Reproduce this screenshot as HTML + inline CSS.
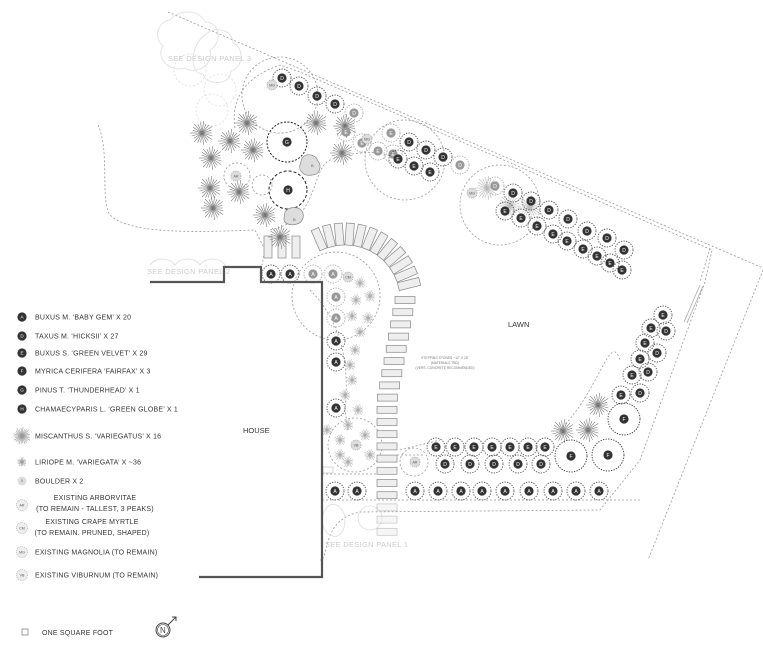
<!DOCTYPE html>
<html><head><meta charset="utf-8"><style>
html,body{margin:0;padding:0;background:#fff;}
svg{display:block;font-family:"Liberation Sans",sans-serif;}
.lg{font-size:7px;fill:#333;letter-spacing:0.2px}
</style></head><body>
<svg id="s" width="763" height="645" viewBox="0 0 763 645" xmlns="http://www.w3.org/2000/svg">
<g id="bg" fill="none" stroke="#999" stroke-width="0.8" stroke-dasharray="2,2">
 <path d="M168,12 L763,268"/>
 <path d="M763,270 L648,560"/>
 <path d="M710,248 L700,282"/>
 <path d="M700,285 L684,322 M703,286 L687,323" stroke-dasharray="none" stroke="#aaa"/>
 <path d="M235,128 C 230,95 250,75 280,65 L300,72 L712,250 L705,282 L640,460 L600,510 L360,512 C 320,520 330,560 320,560"/>
 <path d="M322,500 L640,500"/>
 <path d="M322,474 L380,474"/>
 <path d="M397,455 L425,455"/>
 <path d="M98,125 C 110,150 100,200 110,215 C 130,235 200,232 255,230 L265,250 L262,265"/>
 <path d="M270,230 C 320,220 310,170 330,160 C 360,150 380,150 400,160"/>
 <circle cx="280" cy="95" r="38"/>
 <circle cx="405" cy="160" r="40"/>
 <circle cx="500" cy="205" r="40"/>
 <circle cx="336" cy="296" r="44"/>
 <circle cx="355" cy="445" r="27"/>
 <circle cx="414" cy="462" r="14"/>
 <circle cx="237" cy="176" r="13"/>
 <circle cx="262" cy="185" r="10"/>
 <path d="M310,290 C 340,320 350,360 345,410 L348,430"/>
 <path d="M400,450 L440,440 M560,430 C 600,390 610,330 620,360"/>
</g>
<g id="ghost" fill="none" stroke="#ddd" stroke-width="0.8">
 <path d="M170,20 c10,-12 30,-10 35,2 c15,0 18,20 5,28 c5,15 -15,25 -25,18 c-15,5 -30,-10 -22,-22 c-10,-8 -5,-25 7,-26z"/>
 <path d="M205,35 c10,-10 28,-5 28,8 c12,5 10,25 -2,28 c0,15 -25,15 -28,3 c-15,0 -12,-30 2,-39z"/>
 <circle cx="220" cy="90" r="16" stroke-dasharray="2,2"/>
 <circle cx="190" cy="70" r="16" stroke-dasharray="2,2"/>
 <circle cx="212" cy="110" r="16" stroke-dasharray="2,2"/>
 <path d="M150,265 c5,-8 20,-8 25,0 c5,-8 20,-8 25,0 c5,-8 20,-8 25,0 l0,3"/>
 <circle cx="370" cy="518" r="12"/>
 <path d="M330,505 c-10,5 -10,25 0,30 c10,5 15,-5 15,-15 c0,-10 -8,-18 -15,-15z"/>
</g>
<g id="stones" fill="#eee" stroke="#888" stroke-width="0.7"></g>
<g id="plants"></g>
<path d="M150,282 L224,282 L224,267 L261,267 L261,282 L322,282 L322,577 L199,577" fill="none" stroke="#555" stroke-width="2.2"/>
<g fill="#ccc" font-size="7.5" letter-spacing="0.3">
 <text x="168" y="61">SEE DESIGN PANEL 3</text>
 <text x="147" y="274">SEE DESIGN PANEL 2</text>
 <text x="325" y="547">SEE DESIGN PANEL 1</text>
</g>
<text x="508" y="327" font-size="7.5" fill="#333">LAWN</text>
<text x="243" y="433" font-size="7.5" fill="#333">HOUSE</text>
<g font-size="3.3" fill="#777" text-anchor="middle">
 <text x="445" y="359">STEPPING STONES ~12" X 18"</text>
 <text x="445" y="364">(MATERIALS TBD)</text>
 <text x="445" y="369">(VERS. CONCRETE RECOMMENDED)</text>
</g>
<g id="legend"></g>
<rect x="22" y="629" width="6" height="6" fill="none" stroke="#777" stroke-width="0.7"/>
<text x="42" y="635" class="lg">ONE SQUARE FOOT</text>
<g transform="translate(163,630)" fill="none" stroke="#444" stroke-width="1">
 <circle r="7"/><circle r="5.5" stroke-width="0.6"/>
 <path d="M5,-5 L13,-13 M9,-13 L13,-13 L13,-9"/>
 <text x="-3" y="3" font-size="8" fill="#444" stroke="none">N</text>
</g>
</svg>
<script>
var NS="http://www.w3.org/2000/svg";
function el(p,t,a,txt){var e=document.createElementNS(NS,t);for(var k in a)e.setAttribute(k,a[k]);if(txt)e.textContent=txt;p.appendChild(e);return e;}
var P=document.getElementById('plants'),S=document.getElementById('stones'),L=document.getElementById('legend');
[268,282,296].forEach(function(x){el(S,'rect',{x:x-4,y:236,width:8,height:22});});
for(var a=-113;a<=-10;a+=9){var r=a*Math.PI/180,cx=345+66*Math.cos(r),cy=300+66*Math.sin(r);
 el(S,'rect',{x:-4,y:-11,width:8,height:22,transform:'translate('+cx.toFixed(1)+','+cy.toFixed(1)+') rotate('+(a+90)+')'});}
for(var y=300;y<=535;y+=12.2){var cx=y<400?405-(y-300)*0.18:387;var op=y>505?0.5:1;
 el(S,'rect',{x:cx-10,y:y-3.5,width:20,height:7,opacity:op});}
function scallop(g,x,y,R,col){el(g,'circle',{cx:x,cy:y,r:R,fill:'none',stroke:col||'#666','stroke-width':0.9,'stroke-dasharray':'1.3,1.3'});}
function dot(x,y,l,gray,sc){if(sc!==false)scallop(P,x,y,9,gray?'#aaa':'#555');
 el(P,'circle',{cx:x,cy:y,r:4.6,fill:gray?'#999':'#333'});
 el(P,'text',{x:x,y:y+1.8,'font-size':5,fill:'#fff','text-anchor':'middle'},l);}
function star(x,y,R,col,n,par){var g=el(par||P,'g',{stroke:col||'#777','stroke-width':0.6});n=n||22;
 for(var i=0;i<n;i++){var t=i*2*Math.PI/n,rr=R*(0.8+0.2*((i*7)%3)/2);el(g,'line',{x1:x,y1:y,x2:(x+rr*Math.cos(t)).toFixed(1),y2:(y+rr*Math.sin(t)).toFixed(1)});}}
function tag(x,y,l,r){el(P,'circle',{cx:x,cy:y,r:r||5,fill:'#ddd',stroke:'#888','stroke-width':0.6,'stroke-dasharray':'1,1'});
 el(P,'text',{x:x,y:y+1.3,'font-size':3.6,fill:'#555','text-anchor':'middle'},l);}
[[202,133],[230,141],[247,123],[253,150],[211,158],[210,188],[239,192],[213,208],[265,215],[280,237],[316,123],[345,126],[342,153],[598,405],[563,431],[588,430]].forEach(function(p){star(p[0],p[1],12,'#777');});
[[487,188],[510,206],[530,207]].forEach(function(p){star(p[0],p[1],12,'#bbb');});
[[360,283],[356,300],[370,296],[352,316],[368,318],[360,332],[355,350],[350,365],[352,380],[345,395],[358,410],[348,425],[340,440],[365,435],[370,455],[348,462],[327,430],[340,455]].forEach(function(p){star(p[0],p[1],6,'#aaa',14);});
el(P,'circle',{cx:287,cy:142,r:20,fill:'none',stroke:'#222','stroke-width':1,'stroke-dasharray':'2,1.5'});dot(287,142,'G',false,false);
el(P,'circle',{cx:288,cy:190,r:19,fill:'none',stroke:'#222','stroke-width':1,'stroke-dasharray':'3,2'});dot(288,190,'H',false,false);
el(P,'path',{d:'M302,158 c5,-6 14,-3 16,3 c4,5 2,14 -6,14 c-8,2 -14,-5 -12,-10z',fill:'#ddd',stroke:'#888','stroke-width':0.7});
el(P,'path',{d:'M285,212 c3,-5 12,-6 16,-2 c4,4 3,12 -4,14 c-6,2 -14,0 -13,-6z',fill:'#ddd',stroke:'#888','stroke-width':0.7});
el(P,'text',{x:311,y:167,'font-size':4,fill:'#666'},'B');el(P,'text',{x:293,y:221,'font-size':4,fill:'#666'},'B');
[[282,78],[299,86],[317,96],[335,104],[409,142],[426,150],[443,157],[513,193],[531,201],[549,210],[568,219],[587,231],[607,238],[624,250]].forEach(function(p){dot(p[0],p[1],'D');});
[[354,113],[346,132],[362,143],[378,151],[393,154],[391,133],[460,165],[495,186]].forEach(function(p){dot(p[0],p[1],p[0]>450||p[1]<120?'D':'E',true);});
[[398,159],[414,166],[430,172],[505,211],[521,218],[537,226],[553,234],[567,241],[583,249],[597,256],[610,263],[622,270]].forEach(function(p){dot(p[0],p[1],'E');});
[[663,315],[651,328],[645,343],[640,359],[632,375],[621,395]].forEach(function(p){dot(p[0],p[1],'E');});
[[666,331],[657,353],[648,372],[640,393]].forEach(function(p){dot(p[0],p[1],'D');});
[[624,419],[608,455],[571,456]].forEach(function(p){scallop(P,p[0],p[1],16,'#333');dot(p[0],p[1],'F',false,false);});
[436,455,474,492,510,528,545].forEach(function(x){dot(x,447,'E');});
[445,470,494,518,541].forEach(function(x){dot(x,464,'D');});
[335,357,415,438,461,482,505,529,553,576,599].forEach(function(x){dot(x,491,'A');});
dot(271,274,'A');dot(290,274,'A');dot(313,274,'A',true);dot(333,274,'A',true);dot(336,297,'A',true);dot(336,318,'A',true);
dot(336,341,'A');dot(336,362,'A');dot(336,408,'A');
tag(272,85,'MG');tag(367,139,'MG');tag(472,193,'MG');tag(236,176,'AR');tag(348,277,'CM');tag(356,445,'VB');tag(415,462,'AR');
el(P,'rect',{x:323,y:467,width:10,height:6,fill:'none',stroke:'#aaa','stroke-width':0.5});
var items=[[317,'A','BUXUS M. \u2018BABY GEM\u2019 X 20','d'],[336,'D','TAXUS M. \u2018HICKSII\u2019 X 27','d'],[353,'E','BUXUS S. \u2018GREEN VELVET\u2019 X 29','d'],[371,'F','MYRICA CERIFERA \u2018FAIRFAX\u2019 X 3','d'],[390,'G','PINUS T. \u2018THUNDERHEAD\u2019 X 1','d'],[409,'H','CHAMAECYPARIS L. \u2018GREEN GLOBE\u2019 X 1','d'],[436,'','MISCANTHUS S. \u2018VARIEGATUS\u2019 X 16','m'],[462,'','LIRIOPE M. \u2018VARIEGATA\u2019 X ~36','l'],[481,'B','BOULDER X 2','b'],[505,'AR','','t'],[528,'CM','','t'],[552,'MG','EXISTING MAGNOLIA (TO REMAIN)','t'],[575,'VB','EXISTING VIBURNUM (TO REMAIN)','t']];
items.forEach(function(it){var y=it[0];
 if(it[3]=='d'){el(L,'circle',{cx:22,cy:y,r:4.6,fill:'#333'});el(L,'text',{x:22,y:y+1.7,'font-size':4.6,fill:'#fff','text-anchor':'middle'},it[1]);}
 else if(it[3]=='m'){star(22,y,9,'#999',26,L);}
 else if(it[3]=='l'){star(22,y,5,'#999',14,L);}
 else if(it[3]=='b'){el(L,'circle',{cx:22,cy:y,r:4.5,fill:'#ddd'});el(L,'text',{x:22,y:y+1.2,'font-size':3.5,fill:'#888','text-anchor':'middle'},'B');}
 else {el(L,'circle',{cx:22,cy:y,r:5.5,fill:'#eee',stroke:'#999','stroke-width':0.6,'stroke-dasharray':'1,1'});el(L,'text',{x:22,y:y+1.3,'font-size':3.6,fill:'#555','text-anchor':'middle'},it[1]);}
 if(it[2])el(L,'text',{x:35,y:y+2.5,'class':'lg'},it[2]);});
el(L,'text',{x:95,y:500,'class':'lg','text-anchor':'middle'},'EXISTING ARBORVITAE');
el(L,'text',{x:95,y:511,'class':'lg','text-anchor':'middle'},'(TO REMAIN - TALLEST, 3 PEAKS)');
el(L,'text',{x:92,y:524,'class':'lg','text-anchor':'middle'},'EXISTING CRAPE MYRTLE');
el(L,'text',{x:92,y:535,'class':'lg','text-anchor':'middle'},'(TO REMAIN.  PRUNED, SHAPED)');
</script>
</body></html>
